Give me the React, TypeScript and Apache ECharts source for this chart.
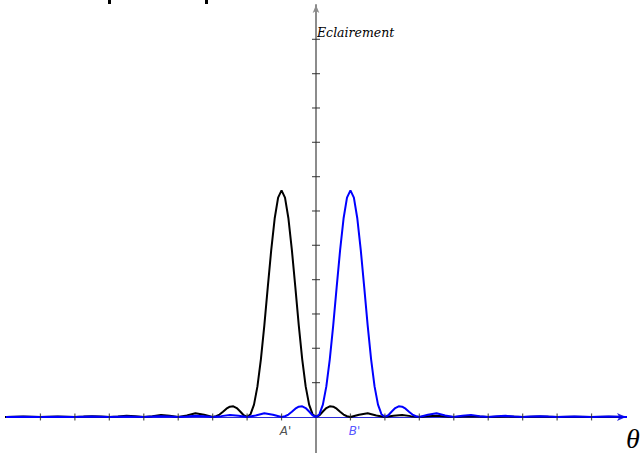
import React, { useEffect, useRef } from "react";
import * as echarts from "echarts";

// Half profile of each diffraction figure (offset from centre in tick units -> illumination in tick units)
const profileOffsets = [
  0, 0.1, 0.2, 0.3, 0.4, 0.5, 0.6, 0.7, 0.8, 0.9, 1.0,
  1.1, 1.2, 1.3, 1.4, 1.5, 1.6, 1.7, 1.8, 1.9, 2.0,
  2.25, 2.5, 2.75, 3.0,
  3.25, 3.5, 3.75, 4.0,
  4.25, 4.5, 4.75, 5.0,
  5.25, 5.5, 5.75, 6.0,
  6.5, 7.0, 7.5, 8.0, 8.5, 9.0, 9.5, 10.0,
];
const profileValues = [
  6.6, 6.39, 5.78, 4.86, 3.78, 2.67, 1.68, 0.89, 0.36, 0.08, 0,
  0.05, 0.16, 0.26, 0.31, 0.3, 0.24, 0.15, 0.07, 0.02, 0,
  0.066, 0.107, 0.044, 0,
  0.032, 0.055, 0.024, 0,
  0.019, 0.033, 0.015, 0,
  0.012, 0.022, 0.01, 0,
  0.016, 0, 0.012, 0, 0.009, 0, 0.007, 0,
];

const centerA = -1; // A'
const centerB = 1; // B'
const pointLabels = ["A'", "B'"];
const xTicks = [-8, -7, -6, -5, -4, -3, -2, -1, 1, 2, 3, 4, 5, 6, 7, 8];
const yTicks = [1, 2, 3, 4, 5, 6, 7, 8, 9, 10, 11];
const yAxisName = "Eclairement";
const xAxisName = "θ";

function buildCurve(center: number): number[][] {
  const pts: number[][] = [];
  for (let i = profileOffsets.length - 1; i > 0; i--) {
    pts.push([center - profileOffsets[i], profileValues[i]]);
  }
  for (let i = 0; i < profileOffsets.length; i++) {
    pts.push([center + profileOffsets[i], profileValues[i]]);
  }
  return pts;
}

export default function App() {
  const ref = useRef<HTMLDivElement>(null);

  useEffect(() => {
    if (!ref.current) return;
    const chart = echarts.init(ref.current, undefined, { renderer: "svg" });
    chart.setOption({
      animation: false,
      backgroundColor: "#ffffff",
      grid: { left: 6, right: 14, top: 5, bottom: 0, containLabel: false },
      xAxis: {
        type: "value",
        min: -9,
        max: 9,
        axisLine: {
          onZero: true,
          symbol: ["none", "arrow"],
          symbolSize: [6, 9],
          lineStyle: { color: "#2a2ad8", width: 1 },
        },
        axisTick: { show: false },
        axisLabel: { show: false },
        splitLine: { show: false },
      },
      yAxis: {
        type: "value",
        min: -1.05,
        max: 12,
        axisLine: {
          onZero: true,
          symbol: ["none", "arrow"],
          symbolSize: [5, 8],
          lineStyle: { color: "#8c8c8c", width: 2 },
        },
        axisTick: { show: false },
        axisLabel: { show: false },
        splitLine: { show: false },
      },
      series: [
        {
          type: "line",
          name: "A'",
          data: buildCurve(centerA),
          showSymbol: false,
          lineStyle: { color: "#000000", width: 2 },
          z: 2,
          silent: true,
        },
        {
          type: "line",
          name: "B'",
          data: buildCurve(centerB),
          showSymbol: false,
          lineStyle: { color: "#0000ff", width: 2 },
          z: 3,
          silent: true,
        },
        {
          type: "scatter",
          data: xTicks.map((t) => [t, 0]),
          symbol: "rect",
          symbolSize: [1.2, 7],
          itemStyle: { color: "#2a2a2a" },
          z: 4,
          silent: true,
        },
        {
          type: "scatter",
          data: yTicks.map((t) => [0, t]),
          symbol: "rect",
          symbolSize: [8, 1.2],
          itemStyle: { color: "#2a2a2a" },
          z: 4,
          silent: true,
        },
        {
          type: "scatter",
          symbolSize: 0,
          z: 5,
          silent: true,
          data: [
            {
              value: [centerA, 0],
              label: { color: "#222222" },
            },
            {
              value: [centerB, 0],
              label: { color: "#2a2aff" },
            },
          ],
          label: {
            show: true,
            position: "bottom",
            distance: 8,
            offset: [4, 0],
            fontFamily: "DejaVu Sans",
            fontStyle: "italic",
            fontSize: 12,
            formatter: (p: any) => pointLabels[p.dataIndex],
          },
        },
      ],
      graphic: [
        {
          type: "text",
          left: 317,
          top: 26,
          style: {
            text: yAxisName,
            font: 'italic 12.5px "DejaVu Serif"',
            fill: "#000000",
          },
        },
        {
          type: "text",
          left: 626,
          top: 424,
          style: {
            text: xAxisName,
            font: 'italic 28px "Liberation Serif"',
            fill: "#000000",
          },
        },
        { type: "rect", shape: { x: 108, y: 0, width: 3, height: 4 }, style: { fill: "#000" } },
        { type: "rect", shape: { x: 205, y: 0, width: 3, height: 4 }, style: { fill: "#000" } },
      ],
    });
    return () => chart.dispose();
  }, []);

  return (
    <div
      ref={ref}
      style={{ position: "fixed", left: 0, top: 0, width: 640, height: 453 }}
    />
  );
}
